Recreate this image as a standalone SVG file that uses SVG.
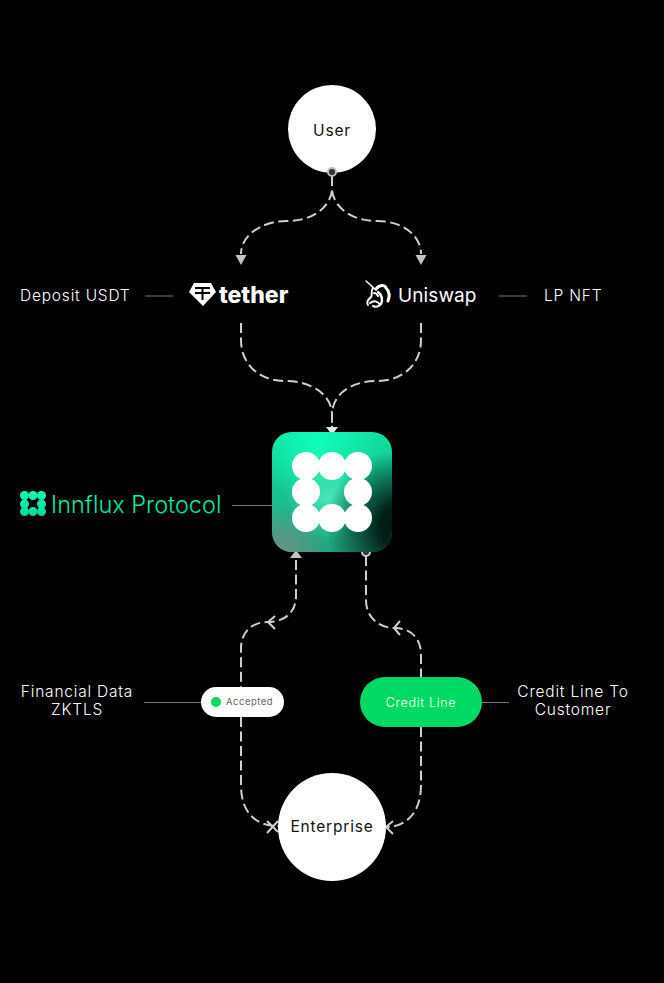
<svg xmlns="http://www.w3.org/2000/svg" width="664" height="983" viewBox="0 0 664 983">
<style>
.t{font-family:"Inter","Liberation Sans",sans-serif;fill:#fff;font-size:15.500px;font-weight:350;letter-spacing:.8px}
.k{fill:#111;font-weight:400}
.m{text-anchor:middle}
.d{fill:none;stroke:#cfcfcf;stroke-width:2;stroke-dasharray:10 4.500}
.a{fill:none;stroke:#cfcfcf;stroke-width:2}
.h{fill:#c4c4c4}
.l{stroke:#777;stroke-width:1;fill:none}
</style>
<defs>
<linearGradient id="tt" gradientUnits="userSpaceOnUse" x1="0" y1="490" x2="0" y2="518"><stop offset="0" stop-color="#14ffb8"/><stop offset="1" stop-color="#00d596"/></linearGradient>
<linearGradient id="base" x1="0" y1="0" x2="0" y2="1"><stop offset="0" stop-color="#10e0a2"/><stop offset="1" stop-color="#1fa67e"/></linearGradient>
<radialGradient id="br" gradientUnits="userSpaceOnUse" cx="318" cy="442" r="62"><stop offset="0" stop-color="#10ffb8"/><stop offset="1" stop-color="#10ffb8" stop-opacity="0"/></radialGradient>
<radialGradient id="ce" gradientUnits="userSpaceOnUse" cx="328" cy="498" r="42"><stop offset="0" stop-color="#4fe8bd" stop-opacity=".9"/><stop offset="1" stop-color="#4fe8bd" stop-opacity="0"/></radialGradient>
<radialGradient id="dk" gradientUnits="userSpaceOnUse" cx="402" cy="526" r="76"><stop offset="0" stop-color="#001510"/><stop offset="0.3" stop-color="#001510" stop-opacity=".92"/><stop offset="1" stop-color="#001510" stop-opacity="0"/></radialGradient>
<radialGradient id="gr" gradientUnits="userSpaceOnUse" cx="282" cy="552" r="48"><stop offset="0" stop-color="#6f8f84"/><stop offset="1" stop-color="#6f8f84" stop-opacity="0"/></radialGradient>
<clipPath id="sq"><rect x="272" y="432" width="120" height="120" rx="20"/></clipPath>
</defs>
<rect width="664" height="983" fill="#000"/>
<g id="connectors">
<path class="d" d="M332 176V190C330 208 312 221 287 221C262 221 241 235 241 254"/>
<path class="d" d="M332 176V190C334 208 352 221 377 221C402 221 421 235 421 254"/>
<polygon class="h" points="235.500,255 246.500,255 241,265"/>
<polygon class="h" points="415.500,255 426.500,255 421,265"/>
<path class="d" d="M241 323V340C241 365 260 381 285 381C312 381 332 395 332 415V430"/>
<path class="d" d="M421 323V340C421 365 402 381 377 381C350 381 332 395 332 415V430"/>
<polygon points="326,427 338,427 332,435" fill="#e8e8e8"/>
<path class="d" d="M296 560V596C296 612 285 622 268 622C252 622 241 632 241 648V687"/>
<polygon class="h" points="290,558 302,558 296,550"/>
<path class="d" d="M241 717V785C241 812 255 826 278 826"/>
<path class="a" d="M267 821L278 832M267 833L278 821"/>
<path class="a" d="M275 616L268 622L275 629"/>
<path class="d" d="M366 556V600C366 617 378 628 395 628C410 628 421 638 421 654V677"/>
<path class="a" d="M400 621L394 628L400 635"/>
<path class="d" d="M421 727V785C421 812 407 827 386 827"/>
<path class="a" d="M393 821L386 827L393 834"/>
<path class="l" d="M145 296H173M499 296H527M232 505.500H272M144 702.500H201M482 702.500H509"/>
</g>
<g id="user">
<circle cx="332" cy="129" r="44" fill="#fff"/>
<text class="t m k" x="332" y="136">User</text>
<circle cx="332" cy="172" r="4" fill="#333" stroke="#bbb" stroke-width="2"/>
</g>
<g id="tether">
<path d="M194 283H211L216 292L203 306L189 292Z" fill="#fff"/>
<path d="M195 288H210M202.500 288V300M195 293H210" stroke="#000" stroke-width="2" fill="none"/>
<text x="219" y="303" font-family="Inter,'Liberation Sans',sans-serif" font-weight="800" font-size="23" fill="#fff">tether</text>
</g>
<g id="uniswap">
<g fill="none" stroke="#fff" stroke-linecap="round">
<path d="M366 281L376 290" stroke-width="1.500"/>
<path d="M373 288C370 292 373 295 371 297C368 300 366 302 368 305" stroke-width="2"/>
<path d="M376 289C380 284 385 285 386 288C389 291 390 296 388 301" stroke-width="3"/>
<path d="M378 292C382 295 383 300 381 304" stroke-width="2.500"/>
<path d="M370 303C374 300 378 301 380 305C378 307 375 307 373 306" stroke-width="2"/>
<path d="M374 293C376 293 377 294 378 296" stroke-width="2"/>
</g>
<text x="398" y="302" font-family="Inter,'Liberation Sans',sans-serif" font-size="19" fill="#fff" letter-spacing=".1">Uniswap</text>
</g>
<text class="t" x="20" y="301">Deposit USDT</text>
<text class="t" x="544" y="301">LP NFT</text>
<g id="innflux-label">
<g fill="url(#tt)">
<circle cx="24.500" cy="495.500" r="4.500"/><circle cx="33" cy="495.500" r="4.500"/><circle cx="41.500" cy="495.500" r="4.500"/>
<circle cx="24.500" cy="504" r="4.500"/><circle cx="41.500" cy="504" r="4.500"/>
<circle cx="24.500" cy="511.500" r="4.500"/><circle cx="33" cy="511.500" r="4.500"/><circle cx="41.500" cy="511.500" r="4.500"/>
</g>
<text x="51" y="513" font-family="Inter,'Liberation Sans',sans-serif" font-weight="300" font-size="23.500" fill="url(#tt)">Innflux Protocol</text>
</g>
<g id="innflux">
<circle cx="366" cy="552" r="4" fill="#333" stroke="#cfcfcf" stroke-width="2"/>
<g clip-path="url(#sq)">
<rect x="272" y="432" width="120" height="120" fill="url(#base)"/>
<rect x="272" y="432" width="120" height="120" fill="url(#br)"/>
<rect x="272" y="432" width="120" height="120" fill="url(#ce)"/>
<rect x="272" y="432" width="120" height="120" fill="url(#gr)"/>
<rect x="272" y="432" width="120" height="120" fill="url(#dk)"/>
</g>
<g fill="#fff">
<circle cx="306" cy="466" r="14"/><circle cx="332" cy="466" r="14"/><circle cx="358" cy="466" r="14"/>
<circle cx="306" cy="492" r="14"/><circle cx="358" cy="492" r="14"/>
<circle cx="306" cy="518" r="14"/><circle cx="332" cy="518" r="14"/><circle cx="358" cy="518" r="14"/>
</g>
</g>
<g id="accepted">
<rect x="201" y="687" width="83" height="30" rx="15" fill="#fff"/>
<circle cx="216" cy="702" r="5" fill="#00d964"/>
<text x="226" y="705" font-family="Inter,'Liberation Sans',sans-serif" font-size="9.500" fill="#666" letter-spacing=".5">Accepted</text>
</g>
<g id="credit-line">
<rect x="360" y="677" width="122" height="50" rx="25" fill="#00d964"/>
<text class="t m" x="421" y="707" style="font-size:12.500px;font-weight:300;letter-spacing:.7px">Credit Line</text>
</g>
<g id="enterprise">
<circle cx="332" cy="827" r="54" fill="#fff"/>
<text class="t m k" x="332" y="832">Enterprise</text>
</g>
<text class="t m" x="77" y="697">Financial Data</text>
<text class="t m" x="77" y="715">ZKTLS</text>
<text class="t m" x="573" y="697">Credit Line To</text>
<text class="t m" x="573" y="715">Customer</text>
</svg>
